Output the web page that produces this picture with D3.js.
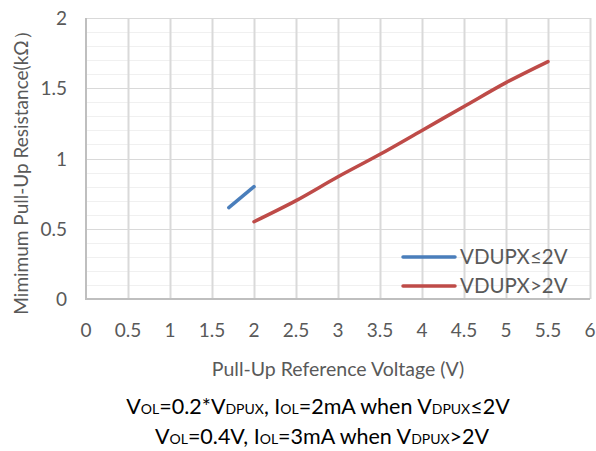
<!DOCTYPE html>
<html><head><meta charset="utf-8">
<script src="https://cdn.jsdelivr.net/npm/d3@7/dist/d3.min.js"></script>
<style>body{margin:0;background:#fff}svg{display:block}text{font-family:Lato,"Open Sans",sans-serif}</style>
</head><body>
<svg id="c" width="596" height="451"></svg>
<script>
const xTicks = [0,0.5,1,1.5,2,2.5,3,3.5,4,4.5,5,5.5,6];
const yTicks = [0,0.5,1,1.5,2];
const lowX = [1.7, 2.0];
const lowY = [0.65, 0.80];
const highX = [2.0, 2.5, 3.0, 3.5, 4.0, 4.5, 5.0, 5.5];
const highY = [0.55, 0.70, 0.87, 1.03, 1.20, 1.37, 1.54, 1.69];
const seriesNames = ["VDUPX≤2V", "VDUPX>2V"];
const colors = ["#4a7ebb", "#be4b48"];

const svg = d3.select("#c");
const x = d3.scaleLinear().domain([0,6]).range([86,590]);
const y = d3.scaleLinear().domain([0,2]).range([299,18]);

const minor = d3.range(0,2.001,0.1).filter(v => Math.abs(v*2 - Math.round(v*2))>1e-6);
svg.append("g").selectAll("line").data(minor).join("line")
  .attr("x1",x(0)).attr("x2",x(6)).attr("y1",d=>Math.round(y(d))+0.5).attr("y2",d=>Math.round(y(d))+0.5)
  .attr("stroke","#f0f0f0").attr("stroke-width",1);
svg.append("g").selectAll("line").data(yTicks.slice(1)).join("line")
  .attr("x1",x(0)).attr("x2",x(6)).attr("y1",d=>Math.round(y(d))+0.5).attr("y2",d=>Math.round(y(d))+0.5)
  .attr("stroke","#d9d9d9").attr("stroke-width",1);
svg.append("g").selectAll("line").data(xTicks.slice(1)).join("line")
  .attr("x1",d=>Math.round(x(d))+0.5).attr("x2",d=>Math.round(x(d))+0.5).attr("y1",y(0)).attr("y2",y(2))
  .attr("stroke","#d9d9d9").attr("stroke-width",2);
svg.append("line").attr("x1",x(0)).attr("x2",x(0)).attr("y1",y(2)).attr("y2",y(0)+1).attr("stroke","#bfbfbf").attr("stroke-width",2);
svg.append("line").attr("x1",x(0)-1).attr("x2",x(6)).attr("y1",y(0)).attr("y2",y(0)).attr("stroke","#bfbfbf").attr("stroke-width",2);

svg.append("g").selectAll("text").data(xTicks).join("text")
  .attr("x",d=>x(d)).attr("y",337).attr("text-anchor","middle")
  .attr("font-size",19).attr("fill","#595959").text(d=>d);
svg.append("g").selectAll("text").data(yTicks).join("text")
  .attr("x",67).attr("y",d=>y(d)+7).attr("text-anchor","end")
  .attr("font-size",19).attr("fill","#595959").text(d=>d);

const line = d3.line().x(d=>x(d[0])).y(d=>y(d[1])).curve(d3.curveMonotoneX);
const lowData = lowX.map((v,i)=>[v,lowY[i]]);
const highData = highX.map((v,i)=>[v,highY[i]]);
svg.append("path").attr("d",line(lowData)).attr("fill","none").attr("stroke",colors[0]).attr("stroke-width",3.5).attr("stroke-linecap","round");
svg.append("path").attr("d",line(highData)).attr("fill","none").attr("stroke",colors[1]).attr("stroke-width",3.5).attr("stroke-linecap","round");

seriesNames.forEach((n,i)=>{
  const ly = 257 + i*29;
  svg.append("line").attr("x1",403).attr("x2",455).attr("y1",ly).attr("y2",ly)
    .attr("stroke",colors[i]).attr("stroke-width",3.5).attr("stroke-linecap","round");
  svg.append("text").attr("x",460).attr("y",ly+7).attr("font-size",20.5).attr("fill","#595959").text(n);
});

svg.append("text").attr("transform","translate(28,168) rotate(-90)").attr("text-anchor","middle")
  .attr("font-size",19).attr("fill","#595959").text("Mimimum Pull-Up Resistance(kΩ）");
svg.append("text").attr("x",338).attr("y",376).attr("text-anchor","middle")
  .attr("font-size",19.5).attr("fill","#595959").text("Pull-Up Reference Voltage (V)");

function note(yy, cx, parts){
  const t = svg.append("text").attr("x",cx).attr("y",yy).attr("text-anchor","middle").attr("font-size",21.5).attr("fill","#000");
  parts.forEach(p=>{
    const ts = t.append("tspan").text(p[0]);
    if(p[1]) ts.attr("font-size",14);
  });
}
note(414, 318, [["V"],["OL",1],["=0.2*V"],["DPUX",1],[", I"],["OL",1],["=2mA when V"],["DPUX",1],["≤2V"]]);
note(444, 322, [["V"],["OL",1],["=0.4V, I"],["OL",1],["=3mA when V"],["DPUX",1],[">2V"]]);
</script>
</body></html>
